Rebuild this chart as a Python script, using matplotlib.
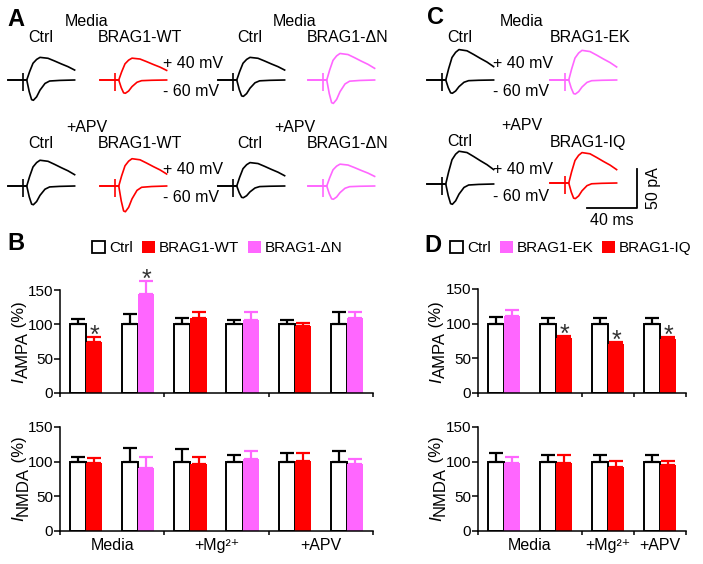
import matplotlib
matplotlib.use('Agg')
import matplotlib.pyplot as plt
import numpy as np
from matplotlib.patches import Patch

plt.rcParams['font.family'] = ['Liberation Sans', 'DejaVu Sans']
plt.rcParams['mathtext.fontset'] = 'custom'
plt.rcParams['mathtext.rm'] = 'Liberation Sans'
plt.rcParams['mathtext.it'] = 'Liberation Sans:italic'

RED = '#ff0000'
PINK = '#ff66ff'

# averaged EPSC waveform (ms, fraction of peak)
POS_T = [0, 11, 15, 17.3, 20, 22.9, 25.6, 32, 37.3, 42.7, 48, 53.3]
POS_FRAC = [0, 0, 0, 0.37, 0.74, 0.91, 1.0, 0.96, 0.84, 0.71, 0.59, 0.44]
NEG_T = [0, 11, 15, 17, 18.9, 20.3, 22.9, 25.6, 29.6, 33.3, 41.3, 53.3]
NEG_FRAC = [0, 0, 0, 0.58, 0.97, 1.0, 0.83, 0.5, 0.17, 0.05, 0.02, 0]
STIM_T = 12

# peak amplitudes (pA) of each trace at +40 mV and -60 mV
A_MEDIA_POS = [29, 28, 29, 34]
A_MEDIA_NEG = [26, 17, 21, 30]
A_APV_POS = [33, 35, 30, 28]
A_APV_NEG = [24, 33, 15, 17]
C_POS = [39, 38, 42, 39]
C_NEG = [17, 18, 26, 20]

# bar data (% of control)
B_CTRL = [100, 100, 100, 100, 100, 100]
B_AMPA_CTRL_ERR = [8, 15, 9, 7, 7, 18]
B_AMPA = [74, 144, 109, 106, 98, 109]
B_AMPA_ERR = [7, 19, 9, 12, 4, 9]
B_NMDA_CTRL_ERR = [7, 20, 18, 10, 12, 15]
B_NMDA = [98, 91, 96, 104, 101, 96]
B_NMDA_ERR = [7, 16, 11, 11, 11, 8]
B_STARS = [0, 1]
B_GROUPS = ['Media', '+Mg\u00b2\u207a', '+APV']

D_CTRL = [100, 100, 100, 100]
D_AMPA_CTRL_ERR = [10, 8, 8, 8]
D_AMPA = [111, 80, 71, 78]
D_AMPA_ERR = [9, 2, 2, 3]
D_NMDA_CTRL_ERR = [12, 10, 10, 10]
D_NMDA = [98, 98, 93, 95]
D_NMDA_ERR = [9, 12, 8, 6]
D_STARS = [1, 2, 3]
D_GROUPS = ['Media', '+Mg\u00b2\u207a', '+APV']

W, H = 703, 564
PX_PER_MS = 1.25
PX_PER_PA = 0.78
TR_XSPAN = 56
TR_YHALF = 45

fig = plt.figure(figsize=(W / 100, H / 100), dpi=100)


def fx(x):
    return x / W


def fy(y):
    return 1 - y / H


def label(x, y, s, **kw):
    kw.setdefault('size', 11.5)
    kw.setdefault('ha', 'center')
    fig.text(fx(x), fy(y), s, va='center', **kw)


def trace_axes(left, base):
    ax = fig.add_axes([fx(left), fy(base + TR_YHALF * PX_PER_PA),
                       TR_XSPAN * PX_PER_MS / W, 2 * TR_YHALF * PX_PER_PA / H])
    ax.set_xlim(0, TR_XSPAN)
    ax.set_ylim(-TR_YHALF, TR_YHALF)
    ax.axis('off')
    return ax


def draw_trace(left, base, pos, neg, color):
    ax = trace_axes(left, base)
    ax.plot(POS_T, np.array(POS_FRAC) * pos, color=color, lw=1.2, clip_on=False)
    ax.plot(NEG_T, -np.array(NEG_FRAC) * neg, color=color, lw=1.2, clip_on=False)
    ax.vlines(STIM_T, -14, 9, color=color, lw=1.2)
    return ax


# panel A
a_left = [8, 100, 218, 308]
a_cols = ['black', RED, 'black', PINK]
for i in range(4):
    draw_trace(a_left[i], 80, A_MEDIA_POS[i], A_MEDIA_NEG[i], a_cols[i])
    draw_trace(a_left[i], 186, A_APV_POS[i], A_APV_NEG[i], a_cols[i])

label(16, 20, 'A', weight='bold', size=17)
for dy, cond in [(0, 'Media'), (106, '+APV')]:
    label(87, 22 + dy, cond)
    label(295, 22 + dy, cond)
    label(41, 38 + dy, 'Ctrl')
    label(140, 38 + dy, 'BRAG1-WT')
    label(250, 38 + dy, 'Ctrl')
    label(348, 38 + dy, 'BRAG1-\u0394N')
    label(163, 64 + dy, '+ 40 mV', ha='left')
    label(163, 92 + dy, '- 60 mV', ha='left')

# panel C
c_cols = ['black', PINK, 'black', RED]
draw_trace(427, 80, C_POS[0], C_NEG[0], c_cols[0])
draw_trace(550, 80, C_POS[1], C_NEG[1], c_cols[1])
draw_trace(427, 184, C_POS[2], C_NEG[2], c_cols[2])
ax_iq = draw_trace(550, 183, C_POS[3], C_NEG[3], c_cols[3])

# scale bar: 40 ms x 50 pA
sb_x, sb_y = 29.6, -32
ax_iq.plot([sb_x, sb_x + 40, sb_x + 40], [sb_y, sb_y, sb_y + 50],
           color='black', lw=1.3, clip_on=False)
ax_iq.text(sb_x + 20, sb_y - 6, '40 ms', ha='center', va='top', size=11.5)
ax_iq.text(sb_x + 47, sb_y + 25, '50 pA', ha='left', va='center',
           rotation=90, size=11.5)

label(435, 18, 'C', weight='bold', size=17)
label(522, 22, 'Media')
label(522, 126, '+APV')
label(460, 38, 'Ctrl')
label(590, 38, 'BRAG1-EK')
label(460, 142, 'Ctrl')
label(588, 142, 'BRAG1-IQ')
label(493, 64, '+ 40 mV', ha='left')
label(493, 91, '- 60 mV', ha='left')
label(493, 170, '+ 40 mV', ha='left')
label(493, 197, '- 60 mV', ha='left')


def current_label(ax, xpos, sub):
    # italic I, a near full-size lowered subscript, then (%)
    t1 = ax.text(xpos, 0.1, 'I', style='italic', rotation=90, size=12.5,
                 transform=ax.transAxes, ha='center', va='bottom')
    t2 = ax.annotate(sub, xy=(0.5, 1), xycoords=t1, xytext=(3, 0),
                     textcoords='offset points', rotation=90, size=12,
                     ha='center', va='bottom')
    ax.annotate(' (%)', xy=(0.5, 1), xycoords=t2, xytext=(-3, 0),
                textcoords='offset points', rotation=90, size=12,
                ha='center', va='bottom')


def bar_panel(rect, ctrl, ctrl_err, mut, mut_err, colors, stars, bounds,
              centers, groups, sub, label_x, xlabels):
    ax = fig.add_axes(rect)
    x = np.arange(len(mut)) + 0.5
    w = 0.31
    ax.bar(x - w / 2, ctrl, w, color='white', edgecolor='black', linewidth=1.4, zorder=2)
    ax.bar(x + w / 2, mut, w, color=colors, zorder=2)
    for xi, y, e in zip(x, ctrl, ctrl_err):
        ax.errorbar(xi - w / 2, y, yerr=[[0], [e]], fmt='none', ecolor='black',
                    elinewidth=1.6, capsize=4.8, capthick=1.6, clip_on=False, zorder=3)
    for xi, y, e, c in zip(x, mut, mut_err, colors):
        ax.errorbar(xi + w / 2, y, yerr=[[0], [e]], fmt='none', ecolor=c,
                    elinewidth=1.6, capsize=4.8, capthick=1.6, clip_on=False, zorder=3)
    for i in stars:
        ax.annotate('*', (x[i] + w / 2, mut[i] + mut_err[i]), xytext=(0, -4),
                    textcoords='offset points', ha='center', va='baseline',
                    size=18, color='#333333', annotation_clip=False)
    ax.set_xlim(0, len(mut))
    ax.set_ylim(0, 150)
    ax.set_yticks([0, 50, 100, 150])
    ax.tick_params(axis='y', labelsize=11, length=4, width=1.1, pad=1)
    ax.set_xticks(bounds)
    ax.set_xticklabels([])
    ax.tick_params(axis='x', which='major', length=3, width=1.1)
    if xlabels:
        ax.set_xticks(centers, minor=True)
        ax.set_xticklabels(groups, minor=True, size=11.5)
        ax.tick_params(axis='x', which='minor', length=0, pad=5)
    for side in ['top', 'right']:
        ax.spines[side].set_visible(False)
    for side in ['left', 'bottom']:
        ax.spines[side].set_linewidth(1.1)
    current_label(ax, label_x, sub)
    return ax


b_colors = [RED, PINK, RED, PINK, RED, PINK]
d_colors = [PINK, RED, RED, RED]

bar_panel([fx(60), fy(393), 313 / W, 103 / H], B_CTRL, B_AMPA_CTRL_ERR, B_AMPA,
          B_AMPA_ERR, b_colors, B_STARS, [0, 2, 4, 6], [1, 3, 5], B_GROUPS,
          'AMPA', -0.13, False)
bar_panel([fx(60), fy(531), 313 / W, 104 / H], B_CTRL, B_NMDA_CTRL_ERR, B_NMDA,
          B_NMDA_ERR, b_colors, [], [0, 2, 4, 6], [1, 3, 5], B_GROUPS,
          'NMDA', -0.13, True)
bar_panel([fx(478), fy(393), 208 / W, 104 / H], D_CTRL, D_AMPA_CTRL_ERR, D_AMPA,
          D_AMPA_ERR, d_colors, D_STARS, [0, 2, 3, 4], [1, 2.5, 3.5], D_GROUPS,
          'AMPA', -0.2, False)
bar_panel([fx(478), fy(531), 208 / W, 104 / H], D_CTRL, D_NMDA_CTRL_ERR, D_NMDA,
          D_NMDA_ERR, d_colors, [], [0, 2, 3, 4], [1, 2.5, 3.5], D_GROUPS,
          'NMDA', -0.2, True)

label(16, 243, 'B', weight='bold', size=17)
label(433, 246, 'D', weight='bold', size=17)

leg_kw = dict(ncol=3, loc='center left', frameon=False, handlelength=0.85,
              handleheight=0.85, handletextpad=0.25, columnspacing=0.6,
              borderpad=0, borderaxespad=0, fontsize=11)
fig.legend([Patch(fc='white', ec='black', lw=1.3), Patch(fc=RED), Patch(fc=PINK)],
           ['Ctrl', 'BRAG1-WT', 'BRAG1-\u0394N'],
           bbox_to_anchor=(fx(92), fy(248)), **leg_kw)
fig.legend([Patch(fc='white', ec='black', lw=1.3), Patch(fc=PINK), Patch(fc=RED)],
           ['Ctrl', 'BRAG1-EK', 'BRAG1-IQ'],
           bbox_to_anchor=(fx(450), fy(248)), **leg_kw)

fig.savefig('out.png', dpi=100)
